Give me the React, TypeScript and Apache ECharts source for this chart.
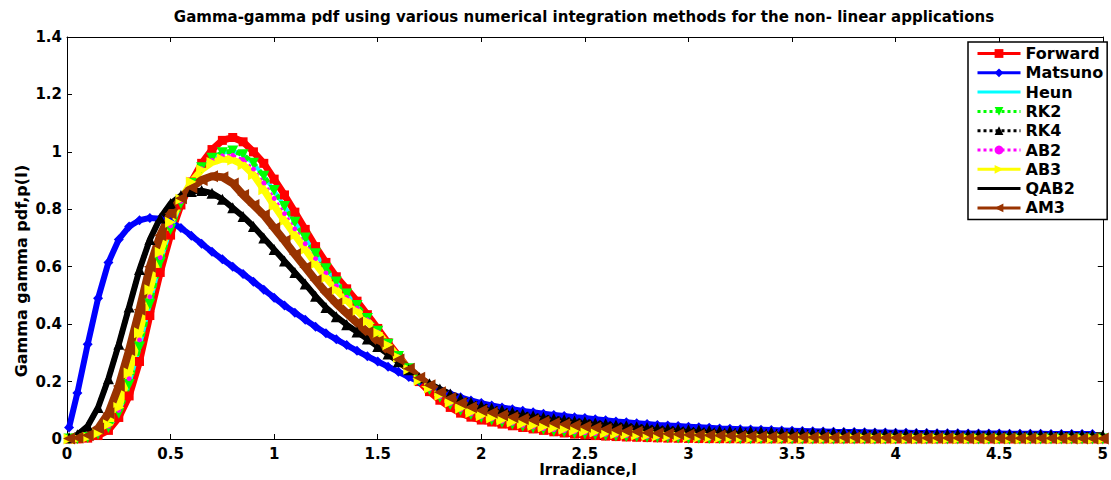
import React, { useEffect, useRef } from "react";
import * as echarts from "echarts";

// Irradiance sample positions (x)
const irradiance = [
  0.01, 0.05, 0.1, 0.15, 0.2, 0.25, 0.3, 0.35, 0.4, 0.45,
  0.5, 0.55, 0.6, 0.65, 0.7, 0.75, 0.8, 0.85, 0.9, 0.95,
  1, 1.05, 1.1, 1.15, 1.2, 1.25, 1.3, 1.35, 1.4, 1.45,
  1.5, 1.55, 1.6, 1.65, 1.7, 1.75, 1.8, 1.85, 1.9, 1.95,
  2, 2.05, 2.1, 2.15, 2.2, 2.25, 2.3, 2.35, 2.4, 2.45,
  2.5, 2.55, 2.6, 2.65, 2.7, 2.75, 2.8, 2.85, 2.9, 2.95,
  3, 3.05, 3.1, 3.15, 3.2, 3.25, 3.3, 3.35, 3.4, 3.45,
  3.5, 3.55, 3.6, 3.65, 3.7, 3.75, 3.8, 3.85, 3.9, 3.95,
  4, 4.05, 4.1, 4.15, 4.2, 4.25, 4.3, 4.35, 4.4, 4.45,
  4.5, 4.55, 4.6, 4.65, 4.7, 4.75, 4.8, 4.85, 4.9, 4.95,
  5,
];

const forward = [
  0, 0.0003, 0.003, 0.012, 0.03, 0.075, 0.15, 0.27, 0.43, 0.58,
  0.71, 0.815, 0.895, 0.96, 1.008, 1.04, 1.05, 1.035, 1.0, 0.96,
  0.905, 0.85, 0.79, 0.73, 0.67, 0.615, 0.565, 0.523, 0.48, 0.433,
  0.385, 0.335, 0.29, 0.243, 0.2, 0.165, 0.135, 0.11, 0.09, 0.076,
  0.066, 0.059, 0.052, 0.046, 0.04, 0.035, 0.03, 0.025, 0.021, 0.017,
  0.014, 0.012, 0.01, 0.0085, 0.007, 0.006, 0.005, 0.004, 0.003, 0.0025,
  0.002, 0.0015, 0.0012, 0.001, 0.0008, 0.0006, 0.0005, 0.0004, 0.0003, 0.0002,
  0.0002, 0, 0, 0, 0, 0, 0, 0, 0, 0,
  0, 0, 0, 0, 0, 0, 0, 0, 0, 0,
  0, 0, 0, 0, 0, 0, 0, 0, 0, 0,
  0,
];

const matsuno = [
  0.04, 0.16, 0.33, 0.49, 0.615, 0.695, 0.74, 0.762, 0.77, 0.767,
  0.755, 0.735, 0.708, 0.68, 0.652, 0.626, 0.6, 0.575, 0.548, 0.52,
  0.492, 0.465, 0.44, 0.415, 0.391, 0.368, 0.347, 0.327, 0.307, 0.288,
  0.27, 0.252, 0.234, 0.216, 0.2, 0.185, 0.17, 0.157, 0.145, 0.134,
  0.125, 0.117, 0.11, 0.104, 0.098, 0.093, 0.088, 0.084, 0.08, 0.076,
  0.073, 0.069, 0.065, 0.061, 0.058, 0.055, 0.052, 0.049, 0.047, 0.045,
  0.043, 0.041, 0.039, 0.037, 0.036, 0.034, 0.033, 0.032, 0.031, 0.03,
  0.029, 0.028, 0.027, 0.026, 0.025, 0.0245, 0.024, 0.0235, 0.023, 0.0225,
  0.022, 0.0215, 0.021, 0.0207, 0.0204, 0.0201, 0.0198, 0.0195, 0.0192, 0.019,
  0.0188, 0.0186, 0.0184, 0.0182, 0.018, 0.0178, 0.0176, 0.0174, 0.0172, 0.017,
  null,
];

// RK2 and Heun coincide
const rk2 = [
  0, 0.0005, 0.005, 0.017, 0.04, 0.09, 0.19, 0.32, 0.47, 0.615,
  0.73, 0.82, 0.89, 0.945, 0.978, 0.997, 1.003, 0.99, 0.96, 0.915,
  0.865, 0.81, 0.755, 0.7, 0.645, 0.593, 0.547, 0.505, 0.465, 0.42,
  0.375, 0.33, 0.287, 0.245, 0.205, 0.172, 0.145, 0.12, 0.1, 0.085,
  0.075, 0.066, 0.058, 0.051, 0.044, 0.038, 0.033, 0.028, 0.024, 0.02,
  0.017, 0.0145, 0.012, 0.0105, 0.009, 0.0075, 0.006, 0.005, 0.004, 0.0035,
  0.003, 0.0025, 0.002, 0.0017, 0.0014, 0.0012, 0.001, 0.0008, 0.0006, 0.0005,
  0.0004, 0, 0, 0, 0, 0, 0, 0, 0, 0,
  0, 0, 0, 0, 0, 0, 0, 0, 0, 0,
  0, 0, 0, 0, 0, 0, 0, 0, 0, 0,
  0,
];

const ab2 = [
  0, 0.0007, 0.0055, 0.018, 0.045, 0.1, 0.21, 0.345, 0.495, 0.632,
  0.742, 0.828, 0.892, 0.941, 0.97, 0.986, 0.988, 0.973, 0.94, 0.892,
  0.838, 0.785, 0.732, 0.68, 0.628, 0.578, 0.533, 0.494, 0.456, 0.415,
  0.372, 0.328, 0.286, 0.244, 0.205, 0.175, 0.148, 0.124, 0.103, 0.088,
  0.078, 0.07, 0.062, 0.055, 0.048, 0.042, 0.037, 0.033, 0.029, 0.025,
  0.022, 0.019, 0.016, 0.014, 0.012, 0.011, 0.009, 0.008, 0.0065, 0.0058,
  0.005, 0.0043, 0.0035, 0.003, 0.0027, 0.0023, 0.002, 0.0017, 0.0014, 0.0012,
  0.001, 0.0008, 0.0006, 0.0005, 0.0004, 0.0003, 0.0003, 0.0002, 0.0002, 0.0001,
  0.0001, 0, 0, 0, 0, 0, 0, 0, 0, 0,
  0, 0, 0, 0, 0, 0, 0, 0, 0, 0,
  0,
];

const ab3 = [
  0, 0.001, 0.006, 0.02, 0.05, 0.11, 0.23, 0.37, 0.52, 0.65,
  0.755, 0.835, 0.895, 0.938, 0.963, 0.975, 0.972, 0.955, 0.92, 0.868,
  0.812, 0.76, 0.71, 0.66, 0.61, 0.562, 0.52, 0.483, 0.447, 0.41,
  0.37, 0.327, 0.285, 0.243, 0.205, 0.178, 0.152, 0.128, 0.107, 0.092,
  0.081, 0.073, 0.066, 0.059, 0.053, 0.047, 0.042, 0.038, 0.034, 0.03,
  0.027, 0.024, 0.021, 0.018, 0.016, 0.014, 0.012, 0.0105, 0.009, 0.008,
  0.007, 0.006, 0.005, 0.0045, 0.004, 0.0035, 0.003, 0.0025, 0.002, 0.0018,
  0.0015, 0.0013, 0.001, 0.0009, 0.0008, 0.0007, 0.0006, 0.0005, 0.0004, 0.0003,
  0.0003, 0, 0, 0, 0, 0, 0, 0, 0, 0,
  0, 0, 0, 0, 0, 0, 0, 0, 0, 0,
  0,
];

// QAB2 and RK4 coincide
const qab2 = [
  0.004, 0.015, 0.045, 0.11, 0.21, 0.33, 0.46, 0.59, 0.695, 0.77,
  0.82, 0.848, 0.862, 0.865, 0.856, 0.835, 0.805, 0.775, 0.74, 0.7,
  0.66, 0.62, 0.58, 0.54, 0.497, 0.458, 0.426, 0.398, 0.373, 0.348,
  0.322, 0.296, 0.269, 0.241, 0.213, 0.192, 0.174, 0.157, 0.141, 0.127,
  0.116, 0.107, 0.1, 0.093, 0.087, 0.081, 0.076, 0.071, 0.067, 0.063,
  0.06, 0.056, 0.053, 0.049, 0.046, 0.043, 0.04, 0.038, 0.036, 0.034,
  0.032, 0.031, 0.03, 0.029, 0.028, 0.027, 0.026, 0.025, 0.024, 0.0235,
  0.023, 0.0225, 0.022, 0.0215, 0.021, 0.0205, 0.02, 0.0195, 0.019, 0.0185,
  0.018, 0.0177, 0.0174, 0.0171, 0.0168, 0.0165, 0.0162, 0.016, 0.0157, 0.0155,
  0.0152, 0.015, 0.0148, 0.0146, 0.0144, 0.0142, 0.014, 0.0138, 0.0136, 0.0134,
  0.0132,
];

const am3 = [
  0.002, 0.004, 0.013, 0.037, 0.09, 0.185, 0.31, 0.45, 0.6, 0.71,
  0.785, 0.838, 0.876, 0.902, 0.915, 0.912, 0.89, 0.85, 0.815, 0.78,
  0.735, 0.69, 0.643, 0.598, 0.553, 0.51, 0.472, 0.438, 0.405, 0.372,
  0.34, 0.308, 0.277, 0.245, 0.213, 0.187, 0.163, 0.143, 0.125, 0.111,
  0.099, 0.091, 0.083, 0.076, 0.07, 0.065, 0.06, 0.055, 0.051, 0.047,
  0.043, 0.039, 0.035, 0.031, 0.028, 0.025, 0.022, 0.02, 0.018, 0.0165,
  0.015, 0.014, 0.013, 0.012, 0.011, 0.01, 0.0093, 0.0087, 0.008, 0.0075,
  0.007, 0.0066, 0.0062, 0.0058, 0.0055, 0.0052, 0.005, 0.0047, 0.0045, 0.0043,
  0.0041, 0.0039, 0.0037, 0.0035, 0.0034, 0.0032, 0.0031, 0.003, 0.0029, 0.0028,
  0.0027, 0.0026, 0.0025, 0.0024, 0.0023, 0.0022, 0.0022, 0.0021, 0.002, 0.002,
  0.0019,
];

const methodNames = ["Forward", "Matsuno", "Heun", "RK2", "RK4", "AB2", "AB3", "QAB2", "AM3"];

const titleText =
  "Gamma-gamma pdf using various numerical integration methods for the non- linear applications";
const xName = "Irradiance,I";
const yName = "Gamma gamma pdf,p(I)";

const FONT = "'DejaVu Sans', 'Liberation Sans', Arial, sans-serif";

function pairs(ys: (number | null)[]) {
  const out: number[][] = [];
  irradiance.forEach((x, i) => {
    const y = ys[i];
    if (y !== null && y !== undefined) out.push([x, y]);
  });
  return out;
}

export default function App() {
  const ref = useRef<HTMLDivElement>(null);

  useEffect(() => {
    if (!ref.current) return;
    const chart = echarts.init(ref.current, undefined, { renderer: "svg" });

    const mk = (
      name: string,
      ys: (number | null)[],
      color: string,
      width: number,
      type: string,
      symbol: string,
      symbolSize: number,
      symbolRotate = 0
    ) => ({
      name,
      type: "line",
      data: pairs(ys),
      xAxisIndex: 0,
      yAxisIndex: 0,
      symbol,
      symbolSize,
      symbolRotate,
      showSymbol: symbol !== "none",
      showAllSymbol: true,
      clip: false,
      lineStyle: { color, width, type },
      itemStyle: { color, borderWidth: 0 },
      emphasis: { disabled: true },
    });

    const axisLabelStyle = {
      color: "#000",
      fontFamily: FONT,
      fontWeight: "bold",
      fontSize: 15,
    };

    const legendData = methodNames.map((n) =>
      n === "Heun" || n === "QAB2"
        ? { name: n, itemStyle: { opacity: 0 } }
        : { name: n }
    );

    const option: any = {
      animation: false,
      backgroundColor: "#fff",
      grid: { left: 67, right: 4, top: 37, bottom: 41, containLabel: false },
      legend: {
        orient: "vertical",
        left: 968,
        top: 42,
        data: legendData,
        itemWidth: 43,
        itemHeight: 11,
        itemGap: 2.3,
        padding: [3, 4, 3, 8],
        borderColor: "#000",
        borderWidth: 1.5,
        backgroundColor: "#fff",
        selectedMode: false,
        lineStyle: { width: 3 },
        textStyle: {
          color: "#000",
          fontFamily: FONT,
          fontWeight: "bold",
          fontSize: 16,
          lineHeight: 17,
        },
      },
      xAxis: [
        {
          type: "value",
          min: 0,
          max: 5,
          interval: 0.5,
          position: "bottom",
          axisLine: { show: true, onZero: false, lineStyle: { color: "#000", width: 1 } },
          axisTick: { show: true, inside: true, length: 5, lineStyle: { color: "#000" } },
          axisLabel: { ...axisLabelStyle, margin: 7 },
          splitLine: { show: false },
        },
        {
          type: "value",
          min: 0,
          max: 5,
          interval: 0.5,
          position: "top",
          axisLine: { show: true, onZero: false, lineStyle: { color: "#000", width: 1 } },
          axisTick: { show: true, inside: true, length: 5, lineStyle: { color: "#000" } },
          axisLabel: { show: false },
          splitLine: { show: false },
        },
      ],
      yAxis: [
        {
          type: "value",
          min: 0,
          max: 1.4,
          interval: 0.2,
          position: "left",
          axisLine: { show: true, onZero: false, lineStyle: { color: "#000", width: 1 } },
          axisTick: { show: true, inside: true, length: 5, lineStyle: { color: "#000" } },
          axisLabel: { ...axisLabelStyle, margin: 5 },
          splitLine: { show: false },
        },
        {
          type: "value",
          min: 0,
          max: 1.4,
          interval: 0.2,
          position: "right",
          axisLine: { show: true, onZero: false, lineStyle: { color: "#000", width: 1 } },
          axisTick: { show: true, inside: true, length: 5, lineStyle: { color: "#000" } },
          axisLabel: { show: false },
          splitLine: { show: false },
        },
      ],
      graphic: [
        {
          type: "text",
          x: 584,
          y: 17,
          style: {
            text: titleText,
            align: "center",
            verticalAlign: "middle",
            fill: "#000",
            fontFamily: FONT,
            fontWeight: "bold",
            fontSize: 15,
          },
        },
        {
          type: "text",
          x: 588,
          y: 470,
          style: {
            text: xName,
            align: "center",
            verticalAlign: "middle",
            fill: "#000",
            fontFamily: FONT,
            fontWeight: "bold",
            fontSize: 15,
          },
        },
        {
          type: "text",
          x: 21,
          y: 271,
          rotation: Math.PI / 2,
          style: {
            text: yName,
            align: "center",
            verticalAlign: "middle",
            fill: "#000",
            fontFamily: FONT,
            fontWeight: "bold",
            fontSize: 16,
          },
        },
      ],
      series: [
        mk("Forward", forward, "#ff0000", 7, "solid", "rect", 9),
        mk("Matsuno", matsuno, "#0000ff", 6, "solid", "diamond", 10),
        mk("Heun", rk2, "#00ffff", 4, "solid", "none", 0),
        mk("RK2", rk2, "#00ff00", 5, "dotted", "triangle", 11, 180),
        mk("RK4", qab2, "#000000", 5, "dotted", "triangle", 11),
        mk("AB2", ab2, "#ff00ff", 3, "dotted", "circle", 5),
        mk("AB3", ab3, "#ffff00", 7, "solid", "triangle", 11, -90),
        mk("QAB2", qab2, "#000000", 6, "solid", "none", 0),
        mk("AM3", am3, "#993300", 8, "solid", "triangle", 12, 90),
      ],
    };

    chart.setOption(option);
    return () => chart.dispose();
  }, []);

  return (
    <div
      ref={ref}
      style={{ position: "fixed", left: 0, top: 0, width: 1111, height: 480, background: "#fff" }}
    />
  );
}
